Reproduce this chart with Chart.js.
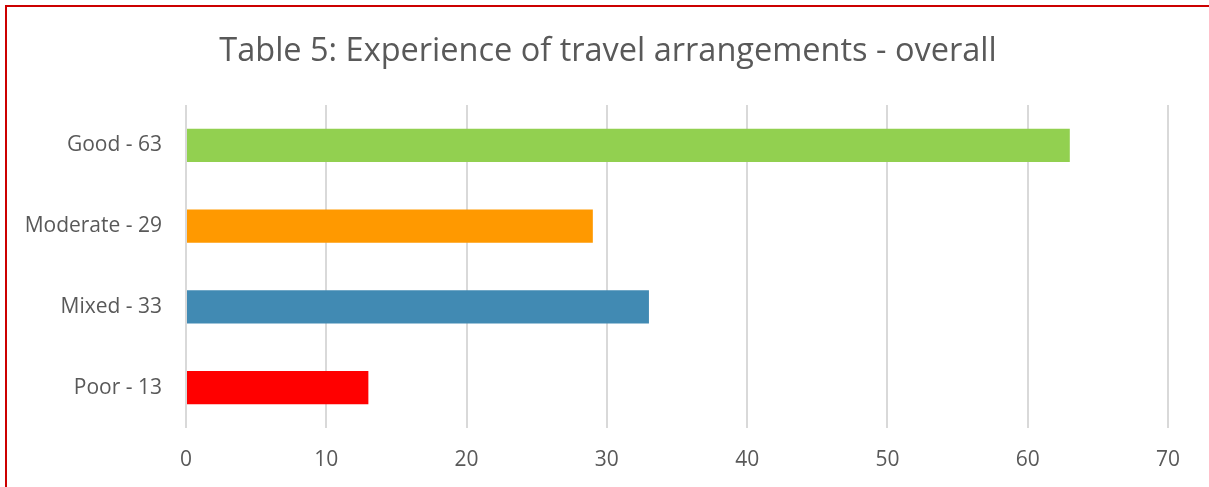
<!DOCTYPE html>
<html>
<head>
<meta charset="utf-8">
<script src="https://cdn.jsdelivr.net/npm/chart.js@4/dist/chart.umd.min.js"></script>
<style>
  html, body { margin: 0; padding: 0; background: #ffffff; overflow: hidden; }
  #frame {
    position: absolute; left: 5px; top: 5px;
    width: 1202px; height: 490px;
    border-left: 2px solid #cc0000;
    border-top: 2px solid #cc0000;
    border-right: 1px solid #f7d4d4;
    background: #ffffff;
  }
  #wrap { position: absolute; left: 0; top: 0; width: 1202px; height: 480px; }
</style>
</head>
<body>
<div id="frame"><div id="wrap"><canvas id="chart"></canvas></div></div>
<script>
// Survey ratings of travel arrangements
const categories = ['Good - 63', 'Moderate - 29', 'Mixed - 33', 'Poor - 13'];
const counts = [63, 29, 33, 13];
const barColors = ['#92d050', '#ff9900', '#418ab3', '#ff0000'];
const xTicks = [0, 10, 20, 30, 40, 50, 60, 70];

const textColor = '#595959';
const fontFamily = '"Open Sans", "Liberation Sans", sans-serif';

new Chart(document.getElementById('chart'), {
  type: 'bar',
  data: {
    labels: categories,
    datasets: [{
      data: counts,
      backgroundColor: barColors,
      borderWidth: 0,
      categoryPercentage: 1.0,
      barPercentage: 0.41
    }]
  },
  options: {
    indexAxis: 'y',
    responsive: true,
    maintainAspectRatio: false,
    animation: false,
    layout: { padding: 0 },
    plugins: {
      legend: { display: false },
      tooltip: { enabled: false },
      title: {
        display: true,
        text: 'Table 5: Experience of travel arrangements - overall',
        color: textColor,
        font: { family: fontFamily, size: 32.5, weight: 'normal', lineHeight: 1.2 },
        padding: { top: 25, bottom: 34 }
      }
    },
    scales: {
      x: {
        min: xTicks[0],
        max: xTicks[xTicks.length - 1],
        afterBuildTicks: (scale) => { scale.ticks = xTicks.map(v => ({ value: v })); },
        grid: { color: '#d9d9d9', lineWidth: 2, drawTicks: false },
        border: { display: false },
        ticks: { color: textColor, font: { family: fontFamily, size: 21 }, padding: 19 },
        afterFit: (scale) => { scale.height = 59; }
      },
      y: {
        grid: { display: false, drawTicks: false },
        border: { display: false },
        ticks: { color: textColor, font: { family: fontFamily, size: 21 }, padding: 24 },
        afterFit: (scale) => { scale.width = 179; }
      },
      // empty right-hand margin so the plot stops short of the frame edge
      gutter: {
        type: 'category',
        position: 'right',
        axis: 'y',
        labels: categories,
        grid: { display: false, drawTicks: false },
        border: { display: false },
        ticks: { display: false },
        afterFit: (scale) => { scale.width = 41; }
      }
    }
  }
});
</script>
</body>
</html>
